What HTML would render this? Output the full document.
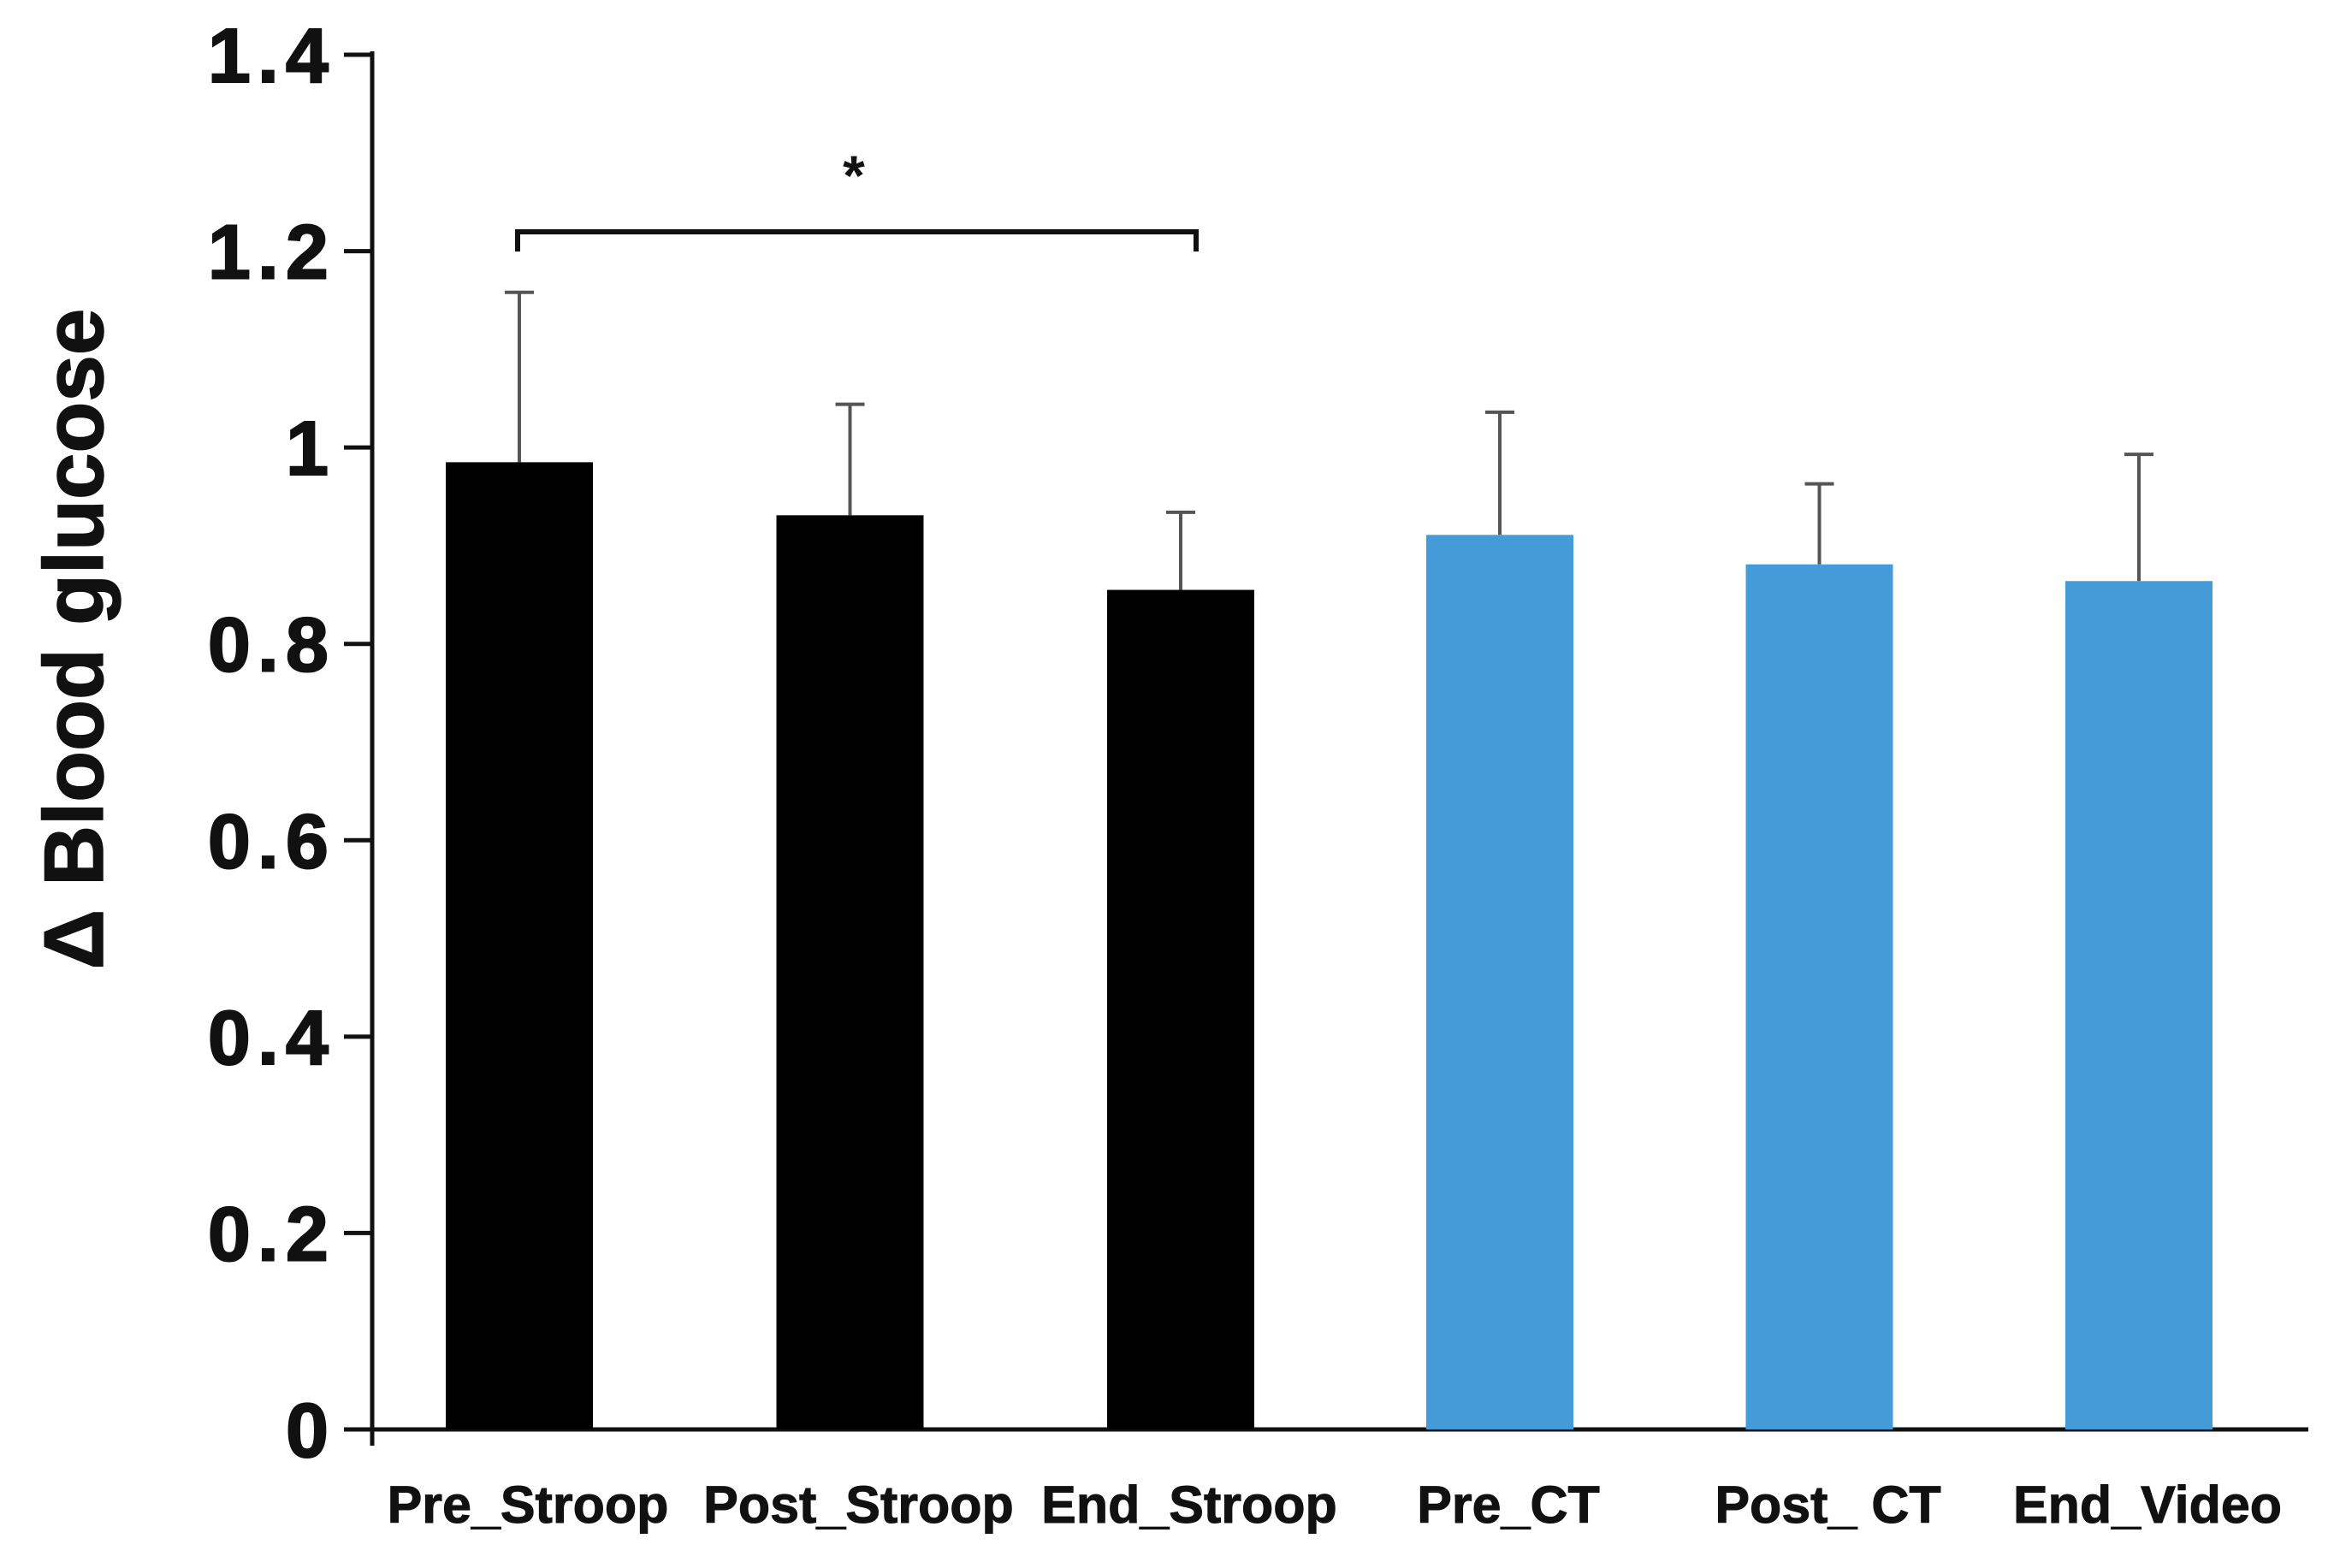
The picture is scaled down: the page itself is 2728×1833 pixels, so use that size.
<!DOCTYPE html>
<html><head><meta charset="utf-8"><style>
html,body{margin:0;padding:0;background:#fff}
svg{display:block}
text{font-family:"Liberation Sans",Arial,sans-serif;font-weight:bold}
</style></head><body>
<svg id="chart" width="2728" height="1833" viewBox="0 0 2728 1833" xmlns="http://www.w3.org/2000/svg">
<g id="axes"></g>
<g id="bars"></g>
<text transform="translate(120,747) rotate(-90)" text-anchor="middle" font-size="98" fill="#111" stroke="#111" stroke-width="1.5">Δ Blood glucose</text>
<g>
<path d="M605,294 V271 H1398 V294" fill="none" stroke="#111" stroke-width="6"/>
<text x="998" y="228" text-anchor="middle" font-size="66" fill="#111">*</text>
</g>
</svg>
<script>
const categories = ["Pre_Stroop","Post_Stroop","End_Stroop","Pre_CT","Post_ CT","End_Video"];
const values = [0.985,0.931,0.855,0.911,0.881,0.864];
const errors = [0.173,0.113,0.079,0.125,0.082,0.129];
const groups = ["stroop","stroop","stroop","ct","ct","ct"];
const yTicks = [0,0.2,0.4,0.6,0.8,1,1.2,1.4];
const yTickLabels = ["0","0.2","0.4","0.6","0.8","1","1.2","1.4"];

const NS="http://www.w3.org/2000/svg";
const y0=1671, yTop=64, yMax=1.4;
function yScale(v){return y0-(v/yMax)*(y0-yTop);}
const barW=172;
function xCenter(i){return i<3 ? 607+i*386.5 : 1753+(i-3)*373.5;}
function mk(tag,attrs,parent){const e=document.createElementNS(NS,tag);for(const k in attrs)e.setAttribute(k,attrs[k]);parent.appendChild(e);return e;}

const axes=document.getElementById('axes');
let l=mk('line',{x1:435,y1:yTop-4,x2:435,y2:1690,stroke:'#111','stroke-width':5},axes);


l=mk('line',{x1:402,y1:y0,x2:2698,y2:y0,stroke:'#111','stroke-width':5},axes);


yTicks.forEach((t,i)=>{
  const y=yScale(t);
  const tk=mk('line',{x1:402,y1:y,x2:435,y2:y,stroke:'#111','stroke-width':5},axes);
  
  
  const tx=mk('text',{x:392,y:y+32,'text-anchor':'end','font-size':90,'letter-spacing':8,fill:'#111',stroke:'#111','stroke-width':2},axes);
  tx.textContent=yTickLabels[i];
  
  
});

const bars=document.getElementById('bars');
categories.forEach((c,i)=>{
  const cx=xCenter(i), x=cx-barW/2, yv=yScale(values[i]), ye=yScale(values[i]+errors[i]);
  const eb=mk('path',{d:`M${cx},${yv} V${ye} M${cx-17},${ye} H${cx+17}`,stroke:'#555','stroke-width':4,fill:'none'},bars);
  
  
  const r=mk('rect',{x:x,y:yv,width:barW,height:y0-yv,fill:groups[i]==='stroop'?'#000':'#449bd8'},bars);
  
  
  const t=mk('text',{x:cx+10,y:1780,'text-anchor':'middle','font-size':61,fill:'#111',stroke:'#111','stroke-width':1},bars);
  t.textContent=c;
  
  
});
</script>
</body></html>
